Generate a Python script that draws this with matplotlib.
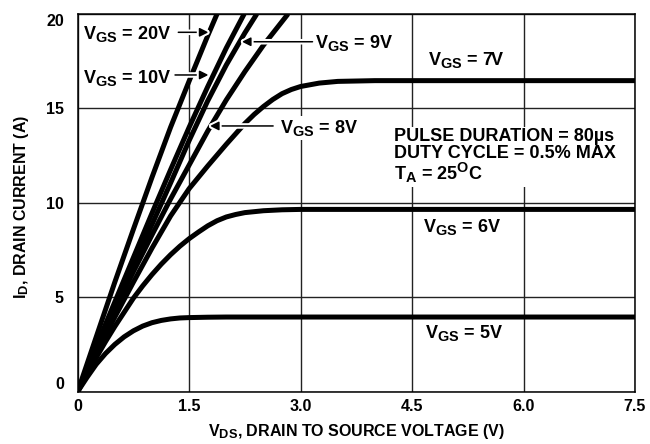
import matplotlib
matplotlib.use('Agg')
import matplotlib.pyplot as plt
import matplotlib.patheffects as pe
from matplotlib import _mathtext

# subindices un poco mas grandes, como en la hoja de datos
_mathtext.SHRINK_FACTOR = 0.8

# datos (V_DS en V, I_D en A)
v_5 = [0, 0.125, 0.25, 0.375, 0.5, 0.625, 0.75, 0.875, 1.0, 1.125, 1.25, 1.375, 1.5, 1.75, 2.0, 2.5, 7.5]
i_5 = [0, 0.75, 1.45, 2.02, 2.5, 2.9, 3.22, 3.47, 3.65, 3.77, 3.85, 3.9, 3.92, 3.94, 3.95, 3.95, 3.95]

v_6 = [0, 0.125, 0.25, 0.375, 0.5, 0.625, 0.75, 0.875, 1.0, 1.125, 1.25, 1.375, 1.5, 1.625, 1.75,
       1.875, 2.0, 2.125, 2.25, 2.5, 2.75, 3.0, 7.5]
i_6 = [0, 0.9, 1.8, 2.65, 3.45, 4.2, 4.95, 5.6, 6.2, 6.75, 7.25, 7.7, 8.1, 8.45, 8.78,
       9.05, 9.25, 9.38, 9.48, 9.58, 9.63, 9.65, 9.65]

v_7 = [0, 0.25, 0.5, 0.75, 1.0, 1.25, 1.5, 1.75, 2.0, 2.25, 2.375, 2.5, 2.625, 2.75, 2.875,
       3.0, 3.25, 3.5, 4.0, 7.5]
i_7 = [0, 2.0, 3.95, 5.8, 7.6, 9.3, 10.75, 11.95, 13.1, 14.2, 14.68, 15.1, 15.47, 15.78, 16.0,
       16.16, 16.34, 16.43, 16.47, 16.47]

v_8 = [0, 0.25, 0.5, 0.75, 1.0, 1.25, 1.5, 1.75, 2.0, 2.25, 2.5, 2.75, 2.83]
i_8 = [0, 2.15, 4.3, 6.35, 8.3, 10.2, 12.0, 13.8, 15.45, 16.95, 18.35, 19.6, 20.0]

v_9 = [0, 0.25, 0.5, 0.75, 1.0, 1.25, 1.5, 1.75, 2.0, 2.25, 2.41]
i_9 = [0, 2.25, 4.5, 6.7, 8.85, 11.05, 13.3, 15.4, 17.3, 19.0, 20.0]

v_10 = [0, 0.25, 0.5, 0.75, 1.0, 1.25, 1.5, 1.75, 2.0, 2.24]
i_10 = [0, 2.4, 4.75, 7.1, 9.45, 11.75, 14.0, 16.15, 18.2, 20.0]

v_20 = [0, 0.25, 0.5, 0.75, 1.0, 1.25, 1.5, 1.75, 1.875]
i_20 = [0, 2.9, 5.8, 8.6, 11.35, 14.0, 16.45, 18.85, 20.0]

curvas = [(v_5, i_5), (v_6, i_6), (v_7, i_7), (v_8, i_8), (v_9, i_9), (v_10, i_10), (v_20, i_20)]

x_ticks = [0, 1.5, 3.0, 4.5, 6.0, 7.5]
x_labels = ['0', '1.5', '3.0', '4.5', '6.0', '7.5']
y_ticks = [0, 5, 10, 15, 20]
y_labels = ['0', '5', '10', '15', '20']

plt.rcParams['font.family'] = 'Liberation Sans'
plt.rcParams['font.weight'] = 'bold'
plt.rcParams['mathtext.fontset'] = 'custom'
plt.rcParams['mathtext.rm'] = 'Liberation Sans:bold'
plt.rcParams['mathtext.it'] = 'Liberation Sans:bold'
plt.rcParams['mathtext.bf'] = 'Liberation Sans:bold'

fig = plt.figure(figsize=(6.5, 4.44), dpi=100)
ax = fig.add_axes([0.1195, 0.118, 0.8575, 0.8505])

for v, i in curvas:
    ax.plot(v, i, color='black', lw=3.6, solid_capstyle='butt', solid_joinstyle='round', zorder=3)

ax.set_xlim(0, 7.5)
ax.set_ylim(0, 20)
ax.set_xticks(x_ticks)
ax.set_xticklabels(x_labels, fontsize=11.5, fontweight='bold')
ax.set_yticks(y_ticks)
ax.set_yticklabels(y_labels, fontsize=11.5, fontweight='bold')
ax.tick_params(axis='x', length=0, pad=5.5)
ax.tick_params(axis='y', length=0, pad=10)
# en el original el 0 y el 20 quedan dentro del eje
ylab = ax.get_yticklabels()
ylab[0].set_va('bottom')
ylab[-1].set_va('top')
ax.grid(True, color='#222222', lw=1.0, zorder=1)
ax.set_axisbelow(True)
for s in ax.spines.values():
    s.set_linewidth(1.1)
    s.set_color('black')

caja = dict(facecolor='white', edgecolor='none', pad=1.5)
fs = 13
ax.text(0.075, 18.68, r'V$_{\mathrm{GS}}$ = 20V', fontsize=fs, va='baseline', ha='left', bbox=caja, zorder=5)
ax.text(0.075, 16.36, r'V$_{\mathrm{GS}}$ = 10V', fontsize=fs, va='baseline', ha='left', bbox=caja, zorder=5)
ax.text(3.2, 18.18, r'V$_{\mathrm{GS}}$ = 9V', fontsize=fs, va='baseline', ha='left', bbox=caja, zorder=5)
ax.text(4.72, 17.3, r'V$_{\mathrm{GS}}$ = 7V', fontsize=fs, va='baseline', ha='left', bbox=caja, zorder=5)
ax.text(2.72, 13.71, r'V$_{\mathrm{GS}}$ = 8V', fontsize=fs, va='baseline', ha='left', bbox=caja, zorder=5)
ax.text(4.65, 8.47, r'V$_{\mathrm{GS}}$ = 6V', fontsize=fs, va='baseline', ha='left', bbox=caja, zorder=5)
ax.text(4.67, 2.85, r'V$_{\mathrm{GS}}$ = 5V', fontsize=fs, va='baseline', ha='left', bbox=caja, zorder=5)

nota = 'PULSE DURATION = 80µs\nDUTY CYCLE = 0.5% MAX\nT$_{\\mathrm{A}}$ = 25$^{\\mathrm{O}}$C'
ax.text(4.25, 13.95, nota, fontsize=fs, va='top', ha='left', linespacing=0.95, bbox=caja, zorder=5)

# flechas con halo blanco
flecha = dict(arrowstyle='-|>', color='black', lw=1.1, mutation_scale=13, shrinkA=0, shrinkB=0,
              path_effects=[pe.withStroke(linewidth=4, foreground='white')])
for cola, punta in [((1.354, 19.03), (1.76, 19.03)),
                    ((1.31, 16.77), (1.76, 16.77)),
                    ((3.16, 18.53), (2.21, 18.53)),
                    ((2.63, 14.07), (1.78, 14.07))]:
    ax.annotate('', xy=punta, xytext=cola, arrowprops=flecha, zorder=6)

fig.text(356 / 650, 1 - 431 / 444, r'V$_{\mathrm{DS}}$, DRAIN TO SOURCE VOLTAGE (V)', fontsize=11.5,
         ha='center', va='center')
fig.text(22 / 650, 1 - 207 / 444, r'I$_{\mathrm{D}}$, DRAIN CURRENT (A)', fontsize=11.5,
         ha='center', va='center', rotation=90)

plt.savefig('out.png', dpi=100)
plt.close()
